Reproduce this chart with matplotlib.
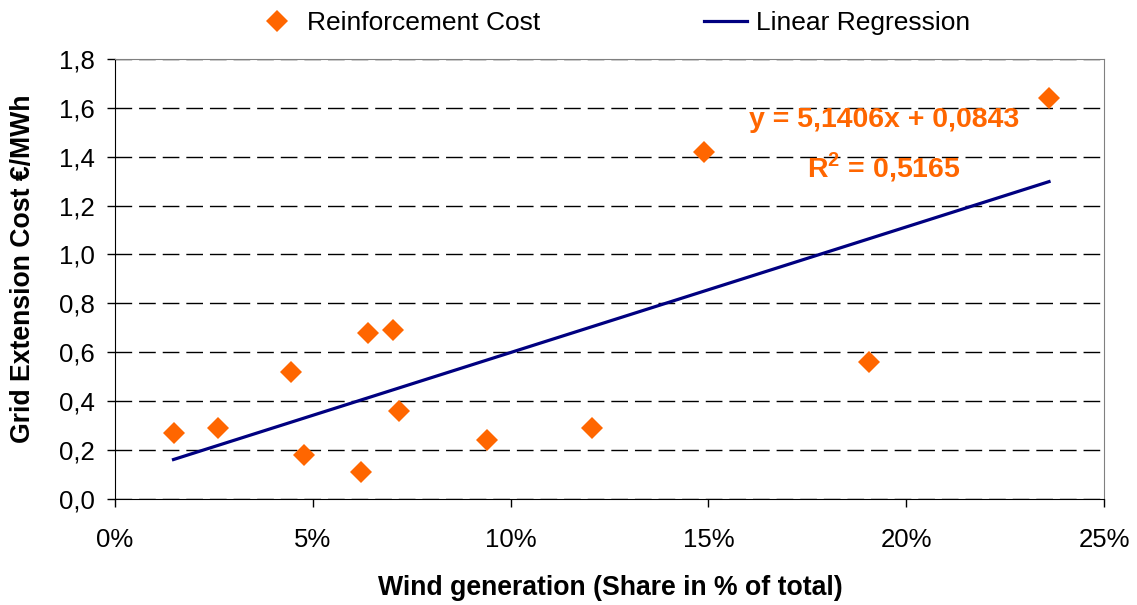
import numpy as np
from matplotlib import pyplot as plt
from matplotlib.ticker import FuncFormatter

plt.rcParams['font.family'] = ['Liberation Sans', 'DejaVu Sans']
plt.rcParams['mathtext.fontset'] = 'custom'
plt.rcParams['mathtext.rm'] = 'Liberation Sans'
plt.rcParams['mathtext.bf'] = 'Liberation Sans:bold'

# wind share (%) and reinforcement cost (EUR/MWh)
wind_share = [1.48, 2.60, 4.44, 4.78, 6.22, 6.40, 7.03, 7.18, 9.41, 12.06, 14.89, 19.06, 23.61]
cost = [0.27, 0.29, 0.52, 0.18, 0.11, 0.68, 0.69, 0.36, 0.24, 0.29, 1.42, 0.56, 1.64]

# trendline from the chart's own equation
slope = 5.1406
intercept = 0.0843
r2 = 0.5165

orange = '#FF6600'
navy = '#000080'

fig, ax = plt.subplots(figsize=(11.37, 6.05), dpi=100)
fig.subplots_adjust(left=0.1011, right=0.971, bottom=0.1757, top=0.9025)

ax.plot(wind_share, cost, linestyle='none', marker='D', ms=11, color=orange,
        markeredgewidth=0, label='Reinforcement Cost', zorder=3)

xfit = np.array([min(wind_share), max(wind_share)])
ax.plot(xfit, slope * xfit / 100 + intercept, color=navy, lw=2.3,
        label='Linear Regression', zorder=2)

ax.set_xlim(0, 25)
ax.set_ylim(0, 1.8)
ax.set_xticks(np.arange(0, 26, 5))
ax.set_yticks(np.arange(0, 1.81, 0.2))
ax.xaxis.set_major_formatter(FuncFormatter(lambda v, p: '%d%%' % v))
ax.yaxis.set_major_formatter(FuncFormatter(lambda v, p: ('%.1f' % v).replace('.', ',')))

ax.yaxis.grid(True, color='black', lw=1, dashes=(12, 5))
ax.set_axisbelow(True)

ax.spines['left'].set_color('black')
ax.spines['bottom'].set_color('black')
ax.spines['top'].set_color('#808080')
ax.spines['right'].set_color('#808080')
ax.tick_params(axis='both', direction='out', length=6, width=1, labelsize=18.5)
ax.tick_params(axis='x', pad=15)
ax.tick_params(axis='y', pad=8.5)

fig.text(610 / 1137, 1 - 588 / 605, 'Wind generation (Share in % of total)', ha='center', va='center',
         fontsize=19.2, fontweight='bold')
fig.text(23 / 1137, 1 - 269 / 605, 'Grid Extension Cost €/MWh', ha='center', va='center',
         rotation=90, fontsize=19.2, fontweight='bold')

ax.text(0.7776, 0.862, 'y = 5,1406x + 0,0843', transform=ax.transAxes, ha='center', va='center',
        color=orange, fontsize=20.5, fontweight='bold')
ax.text(0.7776, 0.755, r'R$^{\mathbf{2}}$ = 0,5165', transform=ax.transAxes, ha='center', va='center',
        color=orange, fontsize=20.5, fontweight='bold')

fig.legend(*ax.get_legend_handles_labels(), loc='center left', bbox_to_anchor=(256 / 1137, 1 - 23 / 605),
           ncol=2, frameon=False, fontsize=19, borderpad=0, borderaxespad=0,
           columnspacing=6.2, handlelength=1.6, handletextpad=0.35)

plt.savefig('out.png', dpi=100)
